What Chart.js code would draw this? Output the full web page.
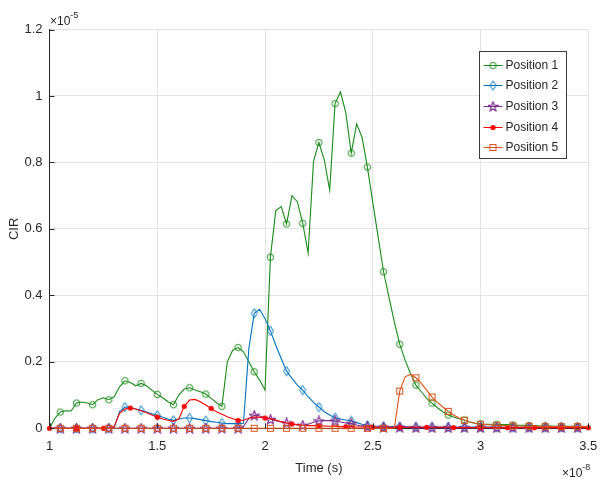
<!DOCTYPE html>
<html>
<head>
<meta charset="utf-8">
<script src="https://cdn.jsdelivr.net/npm/chart.js@4/dist/chart.umd.min.js"></script>
<style>
  body { margin: 0; background: #fff; }
  #cir-chart { display: block; }
</style>
</head>
<body>
<canvas id="cir-chart" width="605" height="483"></canvas>
<script>
// Time axis, in units of 1e-8 s
const timeValues = [
    1.000, 1.025, 1.050, 1.075, 1.100, 1.125, 1.150, 1.175, 1.200, 1.225,
    1.250, 1.275, 1.300, 1.325, 1.350, 1.375, 1.400, 1.425, 1.450, 1.475,
    1.500, 1.525, 1.550, 1.575, 1.600, 1.625, 1.650, 1.675, 1.700, 1.725,
    1.750, 1.775, 1.800, 1.825, 1.850, 1.875, 1.900, 1.925, 1.950, 1.975,
    2.000, 2.025, 2.050, 2.075, 2.100, 2.125, 2.150, 2.175, 2.200, 2.225,
    2.250, 2.275, 2.300, 2.325, 2.350, 2.375, 2.400, 2.425, 2.450, 2.475,
    2.500, 2.525, 2.550, 2.575, 2.600, 2.625, 2.650, 2.675, 2.700, 2.725,
    2.750, 2.775, 2.800, 2.825, 2.850, 2.875, 2.900, 2.925, 2.950, 2.975,
    3.000, 3.025, 3.050, 3.075, 3.100, 3.125, 3.150, 3.175, 3.200, 3.225,
    3.250, 3.275, 3.300, 3.325, 3.350, 3.375, 3.400, 3.425, 3.450, 3.475,
    3.500
];

// CIR values, in units of 1e-5
const position1 = [
    0.000, 0.030, 0.049, 0.053, 0.052, 0.076, 0.079, 0.076, 0.071, 0.086,
    0.092, 0.086, 0.095, 0.125, 0.143, 0.138, 0.128, 0.135, 0.128, 0.115,
    0.102, 0.092, 0.080, 0.071, 0.100, 0.118, 0.122, 0.115, 0.110, 0.103,
    0.090, 0.077, 0.066, 0.200, 0.235, 0.243, 0.230, 0.200, 0.170, 0.145,
    0.115, 0.515, 0.655, 0.667, 0.615, 0.700, 0.682, 0.617, 0.528, 0.803,
    0.860, 0.808, 0.717, 0.977, 1.012, 0.949, 0.828, 0.916, 0.876, 0.786,
    0.680, 0.575, 0.471, 0.395, 0.320, 0.253, 0.205, 0.165, 0.130, 0.110,
    0.090, 0.076, 0.062, 0.050, 0.040, 0.034, 0.029, 0.025, 0.019, 0.015,
    0.013, 0.012, 0.012, 0.012, 0.011, 0.011, 0.010, 0.009, 0.009, 0.008,
    0.008, 0.007, 0.007, 0.007, 0.006, 0.006, 0.006, 0.006, 0.006, 0.005,
    0.005
];

const position2 = [
    0.000, 0.000, 0.000, 0.000, 0.000, 0.000, 0.000, 0.000, 0.000, 0.000,
    0.000, 0.000, 0.002, 0.050, 0.064, 0.063, 0.058, 0.054, 0.049, 0.044,
    0.039, 0.033, 0.028, 0.024, 0.028, 0.031, 0.031, 0.029, 0.026, 0.023,
    0.020, 0.018, 0.016, 0.014, 0.014, 0.014, 0.015, 0.240, 0.346, 0.358,
    0.330, 0.293, 0.250, 0.210, 0.172, 0.150, 0.130, 0.115, 0.095, 0.078,
    0.064, 0.050, 0.040, 0.032, 0.028, 0.025, 0.022, 0.017, 0.012, 0.009,
    0.007, 0.006, 0.006, 0.005, 0.005, 0.005, 0.005, 0.004, 0.004, 0.004,
    0.004, 0.004, 0.004, 0.004, 0.004, 0.004, 0.004, 0.004, 0.004, 0.004,
    0.004, 0.004, 0.004, 0.003, 0.003, 0.003, 0.003, 0.003, 0.003, 0.003,
    0.003, 0.003, 0.003, 0.003, 0.003, 0.003, 0.003, 0.003, 0.003, 0.003,
    0.003
];

const position3 = [
    0.000, 0.000, 0.000, 0.000, 0.000, 0.000, 0.000, 0.000, 0.000, 0.000,
    0.000, 0.000, 0.000, 0.000, 0.000, 0.000, 0.000, 0.000, 0.000, 0.000,
    0.000, 0.000, 0.000, 0.000, 0.000, 0.000, 0.000, 0.000, 0.000, 0.000,
    0.000, 0.000, 0.000, 0.000, 0.000, 0.000, 0.005, 0.030, 0.039, 0.037,
    0.033, 0.027, 0.023, 0.019, 0.016, 0.013, 0.010, 0.009, 0.012, 0.018,
    0.022, 0.023, 0.023, 0.022, 0.019, 0.016, 0.014, 0.010, 0.007, 0.005,
    0.004, 0.003, 0.003, 0.003, 0.003, 0.003, 0.003, 0.003, 0.002, 0.002,
    0.002, 0.002, 0.002, 0.002, 0.002, 0.002, 0.002, 0.002, 0.002, 0.002,
    0.002, 0.002, 0.002, 0.002, 0.002, 0.002, 0.002, 0.002, 0.002, 0.002,
    0.002, 0.002, 0.002, 0.002, 0.002, 0.002, 0.002, 0.002, 0.002, 0.002,
    0.002
];

const position4 = [
    0.000, 0.000, 0.000, 0.000, 0.000, 0.000, 0.000, 0.000, 0.000, 0.000,
    0.000, 0.000, 0.005, 0.045, 0.058, 0.061, 0.058, 0.053, 0.047, 0.040,
    0.034, 0.028, 0.024, 0.021, 0.028, 0.066, 0.085, 0.087, 0.080, 0.070,
    0.060, 0.050, 0.042, 0.035, 0.029, 0.024, 0.024, 0.030, 0.034, 0.033,
    0.031, 0.029, 0.025, 0.020, 0.016, 0.013, 0.011, 0.009, 0.008, 0.008,
    0.007, 0.007, 0.006, 0.006, 0.005, 0.005, 0.005, 0.004, 0.004, 0.004,
    0.003, 0.003, 0.003, 0.003, 0.003, 0.003, 0.003, 0.003, 0.003, 0.003,
    0.003, 0.003, 0.003, 0.003, 0.003, 0.002, 0.002, 0.002, 0.002, 0.002,
    0.002, 0.002, 0.002, 0.002, 0.002, 0.002, 0.002, 0.002, 0.002, 0.002,
    0.002, 0.002, 0.002, 0.002, 0.002, 0.002, 0.002, 0.002, 0.002, 0.002,
    0.002
];

const position5 = [
    0.000, 0.000, 0.000, 0.000, 0.000, 0.000, 0.000, 0.000, 0.000, 0.000,
    0.000, 0.000, 0.000, 0.000, 0.000, 0.000, 0.000, 0.000, 0.000, 0.000,
    0.000, 0.000, 0.000, 0.000, 0.000, 0.000, 0.000, 0.000, 0.000, 0.000,
    0.000, 0.000, 0.000, 0.000, 0.000, 0.000, 0.000, 0.000, 0.000, 0.000,
    0.000, 0.000, 0.000, 0.000, 0.000, 0.000, 0.000, 0.000, 0.000, 0.000,
    0.000, 0.000, 0.000, 0.000, 0.000, 0.000, 0.000, 0.000, 0.000, 0.000,
    0.000, 0.000, 0.000, 0.000, 0.000, 0.112, 0.155, 0.162, 0.152, 0.135,
    0.115, 0.094, 0.078, 0.064, 0.051, 0.040, 0.031, 0.024, 0.019, 0.015,
    0.012, 0.011, 0.010, 0.009, 0.008, 0.008, 0.007, 0.007, 0.006, 0.006,
    0.006, 0.005, 0.005, 0.005, 0.005, 0.005, 0.005, 0.005, 0.005, 0.005,
    0.005
];

const seriesLabels = ['Position 1', 'Position 2', 'Position 3', 'Position 4', 'Position 5'];
const seriesValues = [position1, position2, position3, position4, position5];
const seriesColors = ['#1a8a1a', '#0072BD', '#7E2F8E', '#FF0000', '#D95319'];

const xTicks = [1, 1.5, 2, 2.5, 3, 3.5];
const yTicks = [0, 0.2, 0.4, 0.6, 0.8, 1, 1.2];

const FONT = "'Liberation Sans Narrow', 'Liberation Sans', Arial, sans-serif";
const TEXT_COLOR = '#262626';

// Marker images (hollow MATLAB-style markers)
function makeMarker(kind, color) {
    const c = document.createElement('canvas');
    const ctx = c.getContext('2d');

    if (kind === 'circle') {
        c.width = 9; c.height = 9;
        ctx.strokeStyle = color; ctx.lineWidth = 1;
        ctx.beginPath();
        ctx.arc(4.5, 4.5, 3.2, 0, Math.PI * 2);
        ctx.stroke();
    } else if (kind === 'diamond') {
        c.width = 9; c.height = 11;
        ctx.strokeStyle = color; ctx.lineWidth = 1;
        ctx.beginPath();
        ctx.moveTo(4.5, 0.8);
        ctx.lineTo(7.5, 5.5);
        ctx.lineTo(4.5, 10.2);
        ctx.lineTo(1.5, 5.5);
        ctx.closePath();
        ctx.stroke();
    } else if (kind === 'star') {
        c.width = 11; c.height = 11;
        ctx.strokeStyle = color; ctx.lineWidth = 1.2;
        ctx.beginPath();
        for (let k = 0; k < 10; k++) {
            const r = k % 2 === 0 ? 5 : 2.1;
            const a = -Math.PI / 2 + k * Math.PI / 5;
            const px = 5.5 + r * Math.cos(a);
            const py = 5.8 + r * Math.sin(a);
            if (k === 0) ctx.moveTo(px, py); else ctx.lineTo(px, py);
        }
        ctx.closePath();
        ctx.stroke();
    } else if (kind === 'dot') {
        c.width = 7; c.height = 7;
        ctx.fillStyle = color;
        ctx.beginPath();
        ctx.arc(3.5, 3.5, 2.6, 0, Math.PI * 2);
        ctx.fill();
    } else if (kind === 'square') {
        c.width = 9; c.height = 9;
        ctx.strokeStyle = color; ctx.lineWidth = 1;
        ctx.strokeRect(1.5, 1.5, 6, 6);
    }
    return c;
}

const markerKinds = ['circle', 'diamond', 'star', 'dot', 'square'];
const markerEvery = [3, 3, 3, 5, 3];
const markerOffset = [2, 2, 2, 0, 2];
const markerImages = markerKinds.map((k, i) => makeMarker(k, seriesColors[i]));

function formatTick(v) {
    return String(Number(v.toFixed(2)));
}

// Inward tick marks, exponent labels and boxed legend
const matlabExtras = {
    id: 'matlabExtras',
    afterDraw(chart) {
        const ctx = chart.ctx;
        const area = chart.chartArea;
        const xs = chart.scales.x;
        const ys = chart.scales.y;

        ctx.save();
        ctx.strokeStyle = TEXT_COLOR;
        ctx.lineWidth = 1;
        ctx.beginPath();
        yTicks.forEach(v => {
            const y = Math.round(ys.getPixelForValue(v)) + 0.5;
            ctx.moveTo(area.left, y);
            ctx.lineTo(area.left + 5, y);
        });
        xTicks.forEach(v => {
            const x = Math.round(xs.getPixelForValue(v)) + 0.5;
            ctx.moveTo(x, area.bottom);
            ctx.lineTo(x, area.bottom - 5);
        });
        ctx.stroke();

        // exponent labels
        ctx.fillStyle = TEXT_COLOR;
        ctx.textBaseline = 'alphabetic';
        ctx.textAlign = 'left';
        ctx.font = `12px ${FONT}`;
        let w = ctx.measureText('\u00d710').width;
        ctx.fillText('\u00d710', 50, 25);
        ctx.font = `9px ${FONT}`;
        ctx.fillText('-5', 50 + w, 18);

        ctx.font = `12px ${FONT}`;
        w = ctx.measureText('\u00d710').width;
        ctx.fillText('\u00d710', 562, 477);
        ctx.font = `9px ${FONT}`;
        ctx.fillText('-8', 562 + w, 470);

        // legend box
        const box = { left: 479.5, top: 51.5, width: 87, height: 107 };
        ctx.fillStyle = '#ffffff';
        ctx.fillRect(box.left, box.top, box.width, box.height);
        ctx.strokeStyle = '#3c3c3c';
        ctx.strokeRect(box.left, box.top, box.width, box.height);

        ctx.font = `12px ${FONT}`;
        ctx.textBaseline = 'middle';
        seriesLabels.forEach((label, i) => {
            const y = Math.round(box.top + 13 + i * 20.7) + 0.5;
            ctx.strokeStyle = seriesColors[i];
            ctx.beginPath();
            ctx.moveTo(box.left + 4, y);
            ctx.lineTo(box.left + 23, y);
            ctx.stroke();
            const img = markerImages[i];
            ctx.drawImage(img, box.left + 13.5 - img.width / 2, y - img.height / 2);
            ctx.fillStyle = TEXT_COLOR;
            ctx.fillText(label, box.left + 26, y + 0.5);
        });
        ctx.restore();
    }
};

const datasets = seriesLabels.map((label, i) => ({
    label: label,
    data: timeValues.map((t, k) => ({ x: t, y: seriesValues[i][k] })),
    borderColor: seriesColors[i],
    backgroundColor: seriesColors[i],
    borderWidth: 1.1,
    tension: 0,
    fill: false,
    clip: false,
    order: 5 - i,
    pointStyle: markerImages[i],
    pointRadius: (c) => (c.dataIndex % markerEvery[i] === markerOffset[i] ? 3 : 0),
    pointHoverRadius: 0
}));

new Chart(document.getElementById('cir-chart'), {
    type: 'line',
    data: { datasets },
    options: {
        responsive: false,
        animation: false,
        events: [],
        layout: { padding: { top: 29.5, right: 16.7, left: 0, bottom: 0 } },
        plugins: {
            legend: { display: false },
            tooltip: { enabled: false }
        },
        scales: {
            x: {
                type: 'linear',
                min: 1,
                max: 3.5,
                afterFit: (scale) => {
                    scale.height = 54.7;
                    scale.paddingRight = 0;
                    scale.paddingLeft = 0;
                },
                afterBuildTicks: (scale) => { scale.ticks = xTicks.map(v => ({ value: v })); },
                ticks: {
                    callback: (v) => formatTick(v),
                    color: TEXT_COLOR,
                    font: { family: FONT, size: 13 },
                    padding: 10,
                    maxRotation: 0
                },
                grid: { color: '#e3e3e3', drawTicks: false },
                border: { color: TEXT_COLOR },
                title: {
                    display: true,
                    text: 'Time (s)',
                    color: TEXT_COLOR,
                    font: { family: FONT, size: 13 },
                    padding: { top: 0, bottom: 7 }
                }
            },
            y: {
                type: 'linear',
                min: 0,
                max: 1.2,
                afterFit: (scale) => {
                    scale.width = 49.5;
                    scale.paddingTop = 0;
                    scale.paddingBottom = 0;
                },
                afterBuildTicks: (scale) => { scale.ticks = yTicks.map(v => ({ value: v })); },
                ticks: {
                    callback: (v) => formatTick(v),
                    color: TEXT_COLOR,
                    font: { family: FONT, size: 13 },
                    padding: 7
                },
                grid: { color: '#e3e3e3', drawTicks: false },
                border: { color: TEXT_COLOR },
                title: {
                    display: true,
                    text: 'CIR',
                    color: TEXT_COLOR,
                    font: { family: FONT, size: 13 },
                    padding: { top: 7, bottom: 0 }
                }
            }
        }
    },
    plugins: [matlabExtras]
});
</script>
</body>
</html>
